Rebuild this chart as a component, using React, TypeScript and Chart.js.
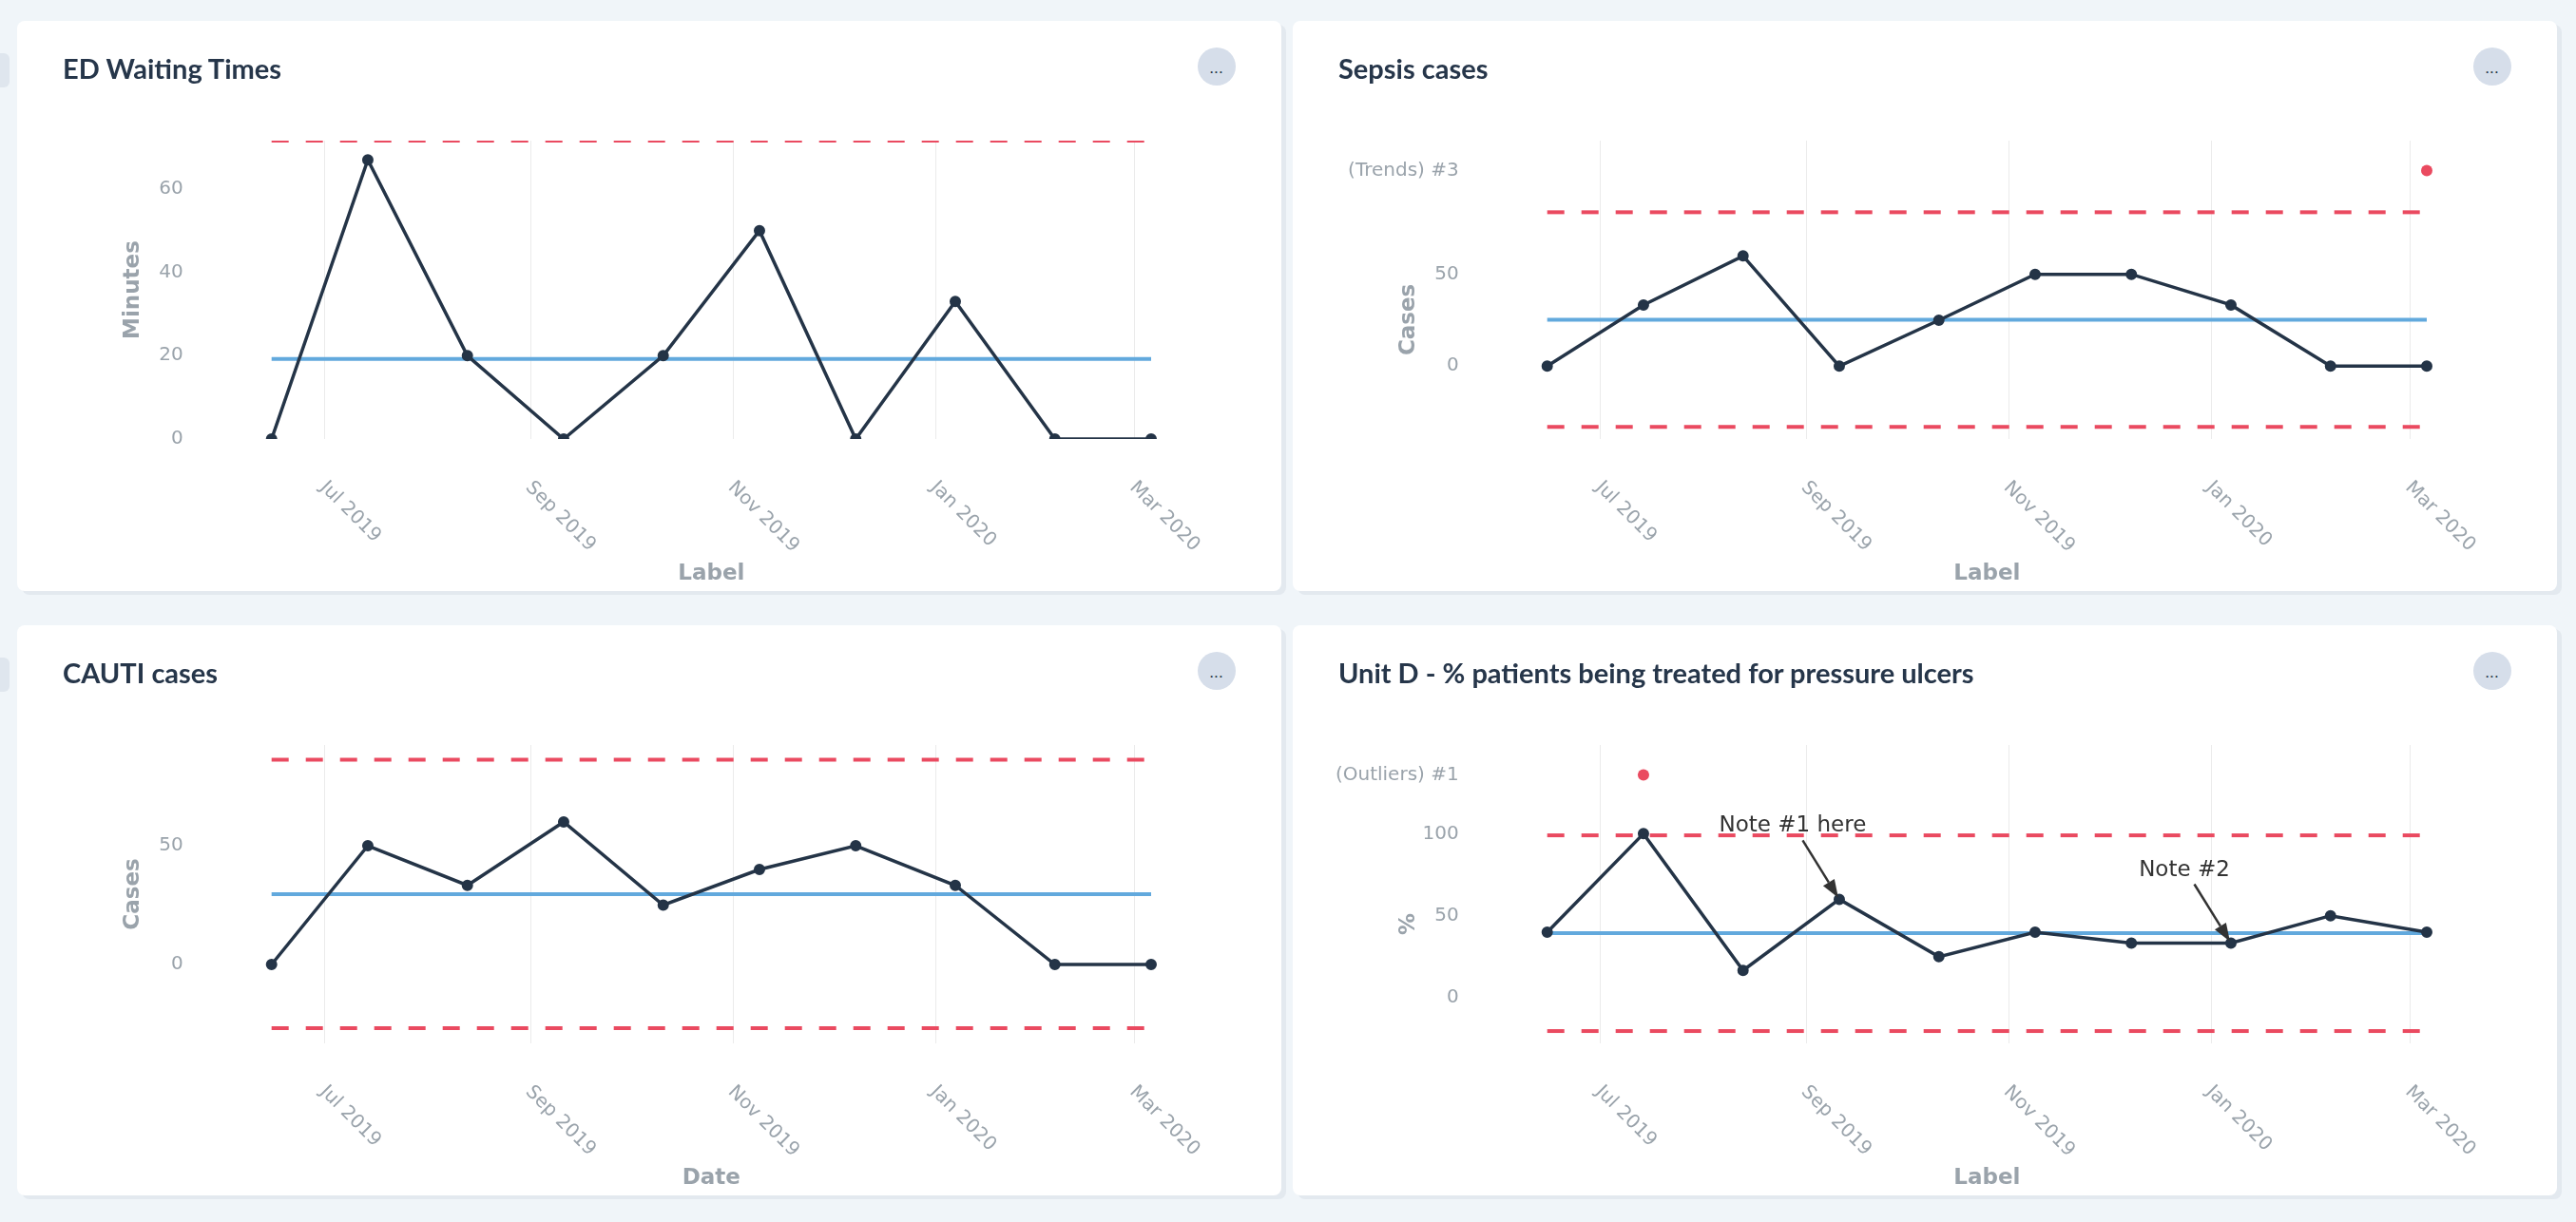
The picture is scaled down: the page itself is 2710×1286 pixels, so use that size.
import React, { useEffect, useRef } from 'react';
import { Chart, registerables } from 'chart.js';

Chart.register(...registerables);

// ---------------- shared x data ----------------
const DATES = ['2019-06-15', '2019-07-14', '2019-08-13', '2019-09-11', '2019-10-11', '2019-11-09', '2019-12-08', '2020-01-07', '2020-02-06', '2020-03-06'];
const X_TICK_DATES = ['2019-07-01', '2019-09-01', '2019-11-01', '2020-01-01', '2020-03-01'];
const X_TICK_LABELS = ['Jul 2019', 'Sep 2019', 'Nov 2019', 'Jan 2020', 'Mar 2020'];

// ---------------- ED Waiting Times ----------------
const ED_TITLE = 'ED Waiting Times';
const ED_Y_TITLE = 'Minutes';
const ED_X_TITLE = 'Label';
const ED_VALUES = [0, 67, 20, 0, 20, 50, 0, 33, 0, 0];
const ED_MEAN = 19.2;
const ED_UCL = 71.6;
const ED_Y_TICKS = [0, 20, 40, 60];
const ED_Y_RANGE = [0, 71.6];

// ---------------- Sepsis cases ----------------
const SEPSIS_TITLE = 'Sepsis cases';
const SEPSIS_Y_TITLE = 'Cases';
const SEPSIS_X_TITLE = 'Label';
const SEPSIS_VALUES = [0, 33.3, 60, 0, 25, 50, 50, 33.3, 0, 0];
const SEPSIS_MEAN = 25.3;
const SEPSIS_UCL = 83.8;
const SEPSIS_LCL = -33.1;
const SEPSIS_Y_TICKS = [0, 50];
const SEPSIS_Y_RANGE = [-39.7, 90.3];
const SEPSIS_SIGNAL_LABEL = '(Trends) #3';
const SEPSIS_SIGNAL_INDEXES = [9];

// ---------------- CAUTI cases ----------------
const CAUTI_TITLE = 'CAUTI cases';
const CAUTI_Y_TITLE = 'Cases';
const CAUTI_X_TITLE = 'Date';
const CAUTI_VALUES = [0, 50, 33.3, 60, 25, 40, 50, 33.3, 0, 0];
const CAUTI_MEAN = 29.6;
const CAUTI_UCL = 86.2;
const CAUTI_LCL = -26.8;
const CAUTI_Y_TICKS = [0, 50];
const CAUTI_Y_RANGE = [-33.2, 92.4];

// ---------------- Unit D pressure ulcers ----------------
const UNITD_TITLE = 'Unit D - % patients being treated for pressure ulcers';
const UNITD_Y_TITLE = '%';
const UNITD_X_TITLE = 'Label';
const UNITD_VALUES = [40, 100, 16.7, 60, 25, 40, 33.3, 33.3, 50, 40];
const UNITD_MEAN = 39.4;
const UNITD_UCL = 99.0;
const UNITD_LCL = -20.3;
const UNITD_Y_TICKS = [0, 50, 100];
const UNITD_Y_RANGE = [-27.8, 117.7];
const UNITD_SIGNAL_LABEL = '(Outliers) #1';
const UNITD_SIGNAL_INDEXES = [1];
const UNITD_NOTE_INDEXES = [3, 7];
const UNITD_NOTE_TEXTS = ['Note #1 here', 'Note #2'];

// ---------------- styling ----------------
const NAVY = '#243447';
const BLUE = '#62a9dd';
const RED = '#ea4a60';
const GREY = '#9aa3ab';
const GRID = '#ebebeb';
const TITLE_COLOR = '#26364a';
const CARD_W = 1330;
const CARD_H = 600;
const Y_AXIS_W = 267.7;
const X_AXIS_H = 160;

const toDay = (s: string) =>
  Date.UTC(+s.slice(0, 4), +s.slice(5, 7) - 1, +s.slice(8, 10)) / 86400000;

const SPECS = [
  { key: 'ed', left: 18, top: 22, title: ED_TITLE, yTitle: ED_Y_TITLE, xTitle: ED_X_TITLE, values: ED_VALUES, mean: ED_MEAN, ucl: ED_UCL, lcl: null, yTicks: ED_Y_TICKS, yRange: ED_Y_RANGE },
  { key: 'sepsis', left: 1360, top: 22, title: SEPSIS_TITLE, yTitle: SEPSIS_Y_TITLE, xTitle: SEPSIS_X_TITLE, values: SEPSIS_VALUES, mean: SEPSIS_MEAN, ucl: SEPSIS_UCL, lcl: SEPSIS_LCL, yTicks: SEPSIS_Y_TICKS, yRange: SEPSIS_Y_RANGE, signalLabel: SEPSIS_SIGNAL_LABEL, signalIdx: SEPSIS_SIGNAL_INDEXES },
  { key: 'cauti', left: 18, top: 658, title: CAUTI_TITLE, yTitle: CAUTI_Y_TITLE, xTitle: CAUTI_X_TITLE, values: CAUTI_VALUES, mean: CAUTI_MEAN, ucl: CAUTI_UCL, lcl: CAUTI_LCL, yTicks: CAUTI_Y_TICKS, yRange: CAUTI_Y_RANGE },
  { key: 'unitd', left: 1360, top: 658, title: UNITD_TITLE, yTitle: UNITD_Y_TITLE, xTitle: UNITD_X_TITLE, values: UNITD_VALUES, mean: UNITD_MEAN, ucl: UNITD_UCL, lcl: UNITD_LCL, yTicks: UNITD_Y_TICKS, yRange: UNITD_Y_RANGE, signalLabel: UNITD_SIGNAL_LABEL, signalIdx: UNITD_SIGNAL_INDEXES, noteIdx: UNITD_NOTE_INDEXES, noteTexts: UNITD_NOTE_TEXTS },
];

const xLabelPlugin = {
  id: 'rotatedXLabels',
  afterDraw(chart: any) {
    const { ctx, chartArea } = chart;
    const xs = chart.scales.x;
    ctx.save();
    ctx.font = '20px "DejaVu Sans"';
    ctx.fillStyle = GREY;
    ctx.textAlign = 'left';
    ctx.textBaseline = 'middle';
    X_TICK_DATES.forEach((d, i) => {
      const px = xs.getPixelForValue(toDay(d));
      ctx.save();
      ctx.translate(px - 2, chartArea.bottom + 48);
      ctx.rotate(Math.PI / 4);
      ctx.fillText(X_TICK_LABELS[i], 0, 0);
      ctx.restore();
    });
    ctx.restore();
  },
};

function makeNotePlugin(spec: any) {
  return {
    id: 'notes',
    afterDatasetsDraw(chart: any) {
      if (!spec.noteIdx) return;
      const { ctx } = chart;
      const xs = chart.scales.x;
      const ys = chart.scales.y;
      ctx.save();
      ctx.fillStyle = '#333333';
      ctx.strokeStyle = '#333333';
      ctx.font = '23px "DejaVu Sans"';
      ctx.textAlign = 'center';
      ctx.textBaseline = 'alphabetic';
      spec.noteIdx.forEach((idx: number, i: number) => {
        const px = xs.getPixelForValue(toDay(DATES[idx]));
        const py = ys.getPixelForValue(spec.values[idx]);
        ctx.fillText(spec.noteTexts[i], px - 49, py - 71);
        const sx = px - 38.5;
        const sy = py - 62;
        const ang = Math.atan2(py - sy, px - sx);
        const shrink = 2;
        const headLen = 19;
        const headHalf = 7;
        const ex = px - Math.cos(ang) * shrink;
        const ey = py - Math.sin(ang) * shrink;
        const bx = ex - Math.cos(ang) * headLen;
        const by = ey - Math.sin(ang) * headLen;
        ctx.lineWidth = 2.5;
        ctx.beginPath();
        ctx.moveTo(sx, sy);
        ctx.lineTo(bx, by);
        ctx.stroke();
        ctx.beginPath();
        ctx.moveTo(ex, ey);
        ctx.lineTo(bx + Math.sin(ang) * headHalf, by - Math.cos(ang) * headHalf);
        ctx.lineTo(bx - Math.sin(ang) * headHalf, by + Math.cos(ang) * headHalf);
        ctx.closePath();
        ctx.fill();
      });
      ctx.restore();
    },
  };
}

function buildConfig(spec: any) {
  const xs = DATES.map(toDay);
  const first = xs[0];
  const last = xs[xs.length - 1];
  const CLIP = { left: false, right: false, top: 0, bottom: 0 };

  const datasets: any[] = [
    {
      data: xs.map((x, i) => ({ x, y: spec.values[i] })),
      borderColor: NAVY,
      backgroundColor: NAVY,
      borderWidth: 3.5,
      pointRadius: 5,
      pointBorderWidth: 2,
      pointBackgroundColor: NAVY,
      pointBorderColor: NAVY,
      tension: 0,
      yAxisID: 'y',
      clip: CLIP,
    },
    {
      data: [{ x: first, y: spec.mean }, { x: last, y: spec.mean }],
      borderColor: BLUE,
      borderWidth: 4,
      pointRadius: 0,
      yAxisID: 'y',
      clip: CLIP,
    },
    {
      data: [{ x: first, y: spec.ucl }, { x: last, y: spec.ucl }],
      borderColor: RED,
      borderWidth: 4,
      borderDash: [18, 18],
      pointRadius: 0,
      yAxisID: 'y',
      clip: CLIP,
    },
  ];
  if (spec.lcl !== null && spec.lcl !== undefined) {
    datasets.push({
      data: [{ x: first, y: spec.lcl }, { x: last, y: spec.lcl }],
      borderColor: RED,
      borderWidth: 4,
      borderDash: [18, 18],
      pointRadius: 0,
      yAxisID: 'y',
      clip: CLIP,
    });
  }
  if (spec.signalLabel) {
    datasets.push({
      data: spec.signalIdx.map((i: number) => ({ x: xs[i], y: 1 })),
      showLine: false,
      pointRadius: 6,
      pointBorderWidth: 0,
      pointBackgroundColor: RED,
      pointBorderColor: RED,
      yAxisID: 'ySig',
      clip: false,
    });
  }

  const tickFont = { family: 'DejaVu Sans', size: 20 };
  const titleFont = { family: 'DejaVu Sans', size: 23, weight: 'bold' };

  const scales: any = {};
  if (spec.signalLabel) {
    scales.ySig = {
      type: 'linear',
      position: 'left',
      stack: 'v',
      stackWeight: 1,
      weight: 1,
      min: 0,
      max: 2,
      afterBuildTicks: (s: any) => { s.ticks = [{ value: 1 }]; },
      ticks: { font: tickFont, color: GREY, padding: 93, callback: () => spec.signalLabel },
      grid: { display: false, drawTicks: false },
      border: { display: false },
      afterFit: (s: any) => { s.width = Y_AXIS_W; },
    };
  }
  scales.y = {
    type: 'linear',
    position: 'left',
    ...(spec.signalLabel ? { stack: 'v', stackWeight: 4, weight: 0 } : {}),
    min: spec.yRange[0],
    max: spec.yRange[1],
    afterBuildTicks: (s: any) => { s.ticks = spec.yTicks.map((v: number) => ({ value: v })); },
    ticks: { font: tickFont, color: GREY, padding: 93, callback: (v: any) => String(v) },
    grid: { display: false, drawTicks: false },
    border: { display: false },
    title: { display: true, text: spec.yTitle, font: titleFont, color: GREY, padding: { top: 108, bottom: 0 } },
    afterFit: (s: any) => { s.width = Y_AXIS_W; },
  };
  scales.x = {
    type: 'linear',
    min: first,
    max: last,
    afterBuildTicks: (s: any) => { s.ticks = X_TICK_DATES.map((d) => ({ value: toDay(d) })); },
    grid: { color: GRID, lineWidth: 1, drawTicks: false },
    border: { display: false },
    ticks: { display: false },
    title: { display: true, text: spec.xTitle, font: titleFont, color: GREY, padding: { top: 0, bottom: 4 } },
    afterFit: (s: any) => { s.height = X_AXIS_H; },
  };

  return {
    type: 'line',
    data: { datasets },
    options: {
      animation: false,
      responsive: false,
      devicePixelRatio: 1,
      layout: { padding: { top: 126, right: 137, bottom: 0, left: 0 } },
      plugins: { legend: { display: false }, tooltip: { enabled: false } },
      scales,
    },
    plugins: [xLabelPlugin, makeNotePlugin(spec)],
  };
}

function ChartCard({ spec }: { spec: any }) {
  const ref = useRef<HTMLCanvasElement>(null);
  useEffect(() => {
    const chart = new Chart(ref.current as HTMLCanvasElement, buildConfig(spec) as any);
    return () => chart.destroy();
  }, [spec]);
  return (
    <div
      style={{
        position: 'absolute',
        left: spec.left,
        top: spec.top,
        width: CARD_W,
        height: CARD_H,
        background: '#ffffff',
        borderRadius: 8,
        boxShadow: '5px 4px 0 #e3e9ef',
      }}
    >
      <canvas
        ref={ref}
        width={CARD_W}
        height={CARD_H}
        style={{ position: 'absolute', left: 0, top: 0, width: CARD_W, height: CARD_H }}
      />
      <div
        style={{
          position: 'absolute',
          left: 48,
          top: 35,
          fontFamily: 'Lato',
          fontWeight: 700,
          fontSize: 29,
          lineHeight: '29px',
          color: TITLE_COLOR,
          whiteSpace: 'nowrap',
        }}
      >
        {spec.title}
      </div>
      <div
        style={{
          position: 'absolute',
          left: 1242,
          top: 28,
          width: 40,
          height: 40,
          borderRadius: 20,
          background: '#d6deea',
          display: 'flex',
          alignItems: 'center',
          justifyContent: 'center',
          fontFamily: 'Lato',
          fontSize: 16,
          letterSpacing: 1,
          color: NAVY,
        }}
      >
        ...
      </div>
    </div>
  );
}

export default function App() {
  useEffect(() => {
    document.body.style.margin = '0';
    document.body.style.overflow = 'hidden';
  }, []);
  return (
    <div
      style={{
        position: 'absolute',
        left: 0,
        top: 0,
        width: 2710,
        height: 1286,
        background: '#f0f5f9',
        overflow: 'hidden',
      }}
    >
      <div style={{ position: 'absolute', left: 0, top: 56, width: 10, height: 36, background: '#dfe6ee', borderRadius: '0 6px 6px 0' }} />
      <div style={{ position: 'absolute', left: 0, top: 692, width: 10, height: 36, background: '#dfe6ee', borderRadius: '0 6px 6px 0' }} />
      {SPECS.map((s) => (
        <ChartCard key={s.key} spec={s} />
      ))}
    </div>
  );
}
